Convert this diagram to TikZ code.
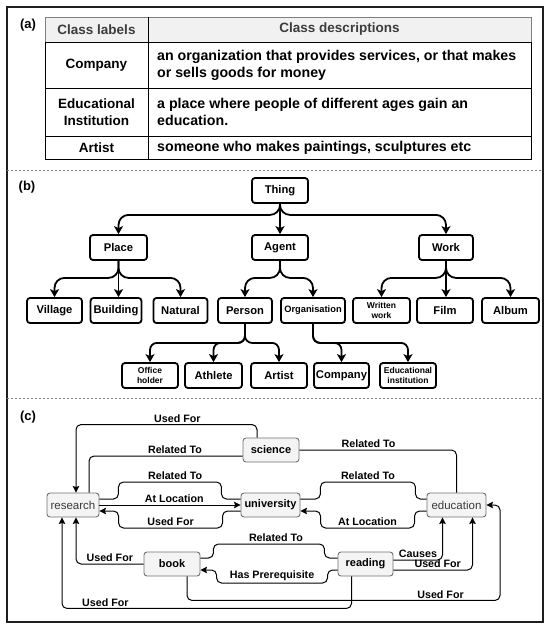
\documentclass[tikz,border=0pt]{standalone}
\usepackage{fontspec}
\setmainfont{Liberation Sans}
\usetikzlibrary{arrows.meta,positioning}
\definecolor{frameink}{HTML}{1E1E1E}
\definecolor{headfill}{HTML}{F1F1F1}
\definecolor{headink}{HTML}{3C3C3C}
\definecolor{conceptfill}{HTML}{F4F4F4}
\definecolor{conceptline}{HTML}{707070}
\definecolor{softink}{HTML}{3A3A3A}

\begin{document}
\begin{tikzpicture}[
    x=1pt,y=-1pt,>=Latex,
    panel/.style={font=\fontsize{13}{15}\selectfont\bfseries},
    cell/.style={align=center,font=\fontsize{13.5}{16.5}\selectfont\bfseries},
    desc/.style={anchor=west,align=left,inner sep=0pt,font=\fontsize{14.2}{17}\selectfont\bfseries},
    cls/.style={draw,line width=1.8pt,rounded corners=3pt,fill=white,minimum width=56pt,
      minimum height=25pt,inner sep=1pt,align=center,font=\fontsize{11.2}{12}\selectfont\bfseries},
    tinytext/.style={font=\fontsize{8.5}{9.5}\selectfont\bfseries},
    isa/.style={-{Stealth[length=8pt,width=9pt,inset=2pt]},line width=1.8pt,rounded corners=10pt},
    concept/.style={draw=conceptline,fill=conceptfill,line width=.9pt,rounded corners=3pt,
      minimum height=24pt,font=\fontsize{11}{13}\selectfont\bfseries},
    softconcept/.style={concept,text=softink,font=\fontsize{11.5}{13}\selectfont},
    link/.style={line width=1pt,rounded corners=5pt},
    linkto/.style={link,-{Stealth[length=6.5pt,width=6.5pt,inset=1pt]}},
    reltag/.style={inner sep=1.5pt,font=\fontsize{10.7}{12}\selectfont\bfseries},
    divider/.style={draw=gray,dash pattern=on 2pt off 2pt,line width=.6pt}
  ]
  \useasboundingbox (0,0) rectangle (551,630);
  \draw[line width=1.5pt,frameink] (7,7) rectangle (543,622);
  \draw[divider] (7,170) -- (543,170);
  \draw[divider] (7,398) -- (543,398);

  % (a) class table
  \node[panel] (tagA) at (28,25) {(a)};
  \filldraw[fill=headfill,draw=gray,line width=.8pt] (45,17) rectangle (531,42);
  \draw[line width=.9pt] (45,42) rectangle (531,159);
  \foreach \y in {88,136} \draw[line width=.9pt] (45,\y) -- (531,\y);
  \draw[line width=.9pt] (148,17) -- (148,159);
  \node[cell,text=headink] (headlabel) at (96.5,29.5) {Class labels};
  \node[cell,text=headink] (headdesc) at (339.5,29.5) {Class descriptions};
  \node[cell] (rowcompany) at (96.5,65) {Company};
  \node[desc] (desccompany) at (157,65) {an organization that provides services, or that makes\\or sells goods for money};
  \node[cell] (rowschool) at (96.5,112) {Educational\\Institution};
  \node[desc] (descschool) at (157,112) {a place where people of different ages gain an\\education.};
  \node[cell] (rowartist) at (96.5,147.5) {Artist};
  \node[desc] (descartist) at (157,147.5) {someone who makes paintings, sculptures etc};

  % (b) class hierarchy
  \node[panel] (tagB) at (27,187) {(b)};
  \node[cls] (thing) at (280,190.5) {Thing};
  \node[cls,minimum width=57pt] (place) at (118.5,247.5) {Place};
  \node[cls] (agent) at (280,247.5) {Agent};
  \node[cls,minimum width=54pt] (work) at (446,247.5) {Work};
  \node[cls,minimum width=55pt] (village) at (54.5,310.5) {Village};
  \node[cls,minimum width=51pt] (building) at (116,310.5) {Building};
  \node[cls,minimum width=54pt] (natural) at (180.5,310.5) {Natural};
  \node[cls,minimum width=54pt] (person) at (245,310.5) {Person};
  \node[cls,minimum width=64pt,font=\fontsize{9.3}{10}\selectfont\bfseries] (organisation) at (313,310.5) {Organisation};
  \node[cls,minimum width=57pt,tinytext] (written) at (381.5,310.5) {Written\\work};
  \node[cls] (film) at (445,310.5) {Film};
  \node[cls,minimum width=57pt] (album) at (510.5,310.5) {Album};
  \node[cls,tinytext] (office) at (150,375.5) {Office\\holder};
  \node[cls,minimum width=57pt] (athlete) at (213.5,375.5) {Athlete};
  \node[cls] (artist) at (279,375.5) {Artist};
  \node[cls,minimum width=55pt] (company) at (341.5,375.5) {Company};
  \node[cls,tinytext] (institution) at (408,375.5) {Educational\\institution};

  \draw[isa] (thing.south) -- ++(0,11) -| (place.north);
  \draw[isa] (thing) -- (agent);
  \draw[isa] (thing.south) -- ++(0,11) -| (work.north);
  \foreach \kid in {village,natural}
    \draw[isa] (place.south) -- ++(0,17) -| (\kid.north);
  \draw[isa] (place.south) -- (place.south |- building.north);
  \foreach \kid in {person,organisation}
    \draw[isa] (agent.south) -- ++(0,17) -| (\kid.north);
  \foreach \kid in {written,album}
    \draw[isa] (work.south) -- ++(0,17) -| (\kid.north);
  \draw[isa] (work.south) -- (work.south |- film.north);
  \foreach \kid in {office,athlete,artist}
    \draw[isa,rounded corners=7pt] (person.south) -- ++(0,19) -| (\kid.north);
  \foreach \kid in {company,institution}
    \draw[isa,rounded corners=7pt] (organisation.south) -- ++(0,19) -| (\kid.north);

  % (c) concept graph
  \node[panel] (tagC) at (28,417) {(c)};
  \node[softconcept,minimum width=52pt] (research) at (73,505) {research};
  \node[concept,minimum width=56pt] (science) at (271,450) {science};
  \node[concept,minimum width=59pt] (university) at (270.5,505) {university};
  \node[softconcept,minimum width=59pt] (education) at (456.5,505) {education};
  \node[concept,minimum width=56pt] (book) at (172,564) {book};
  \node[concept,minimum width=55pt] (reading) at (365.5,564) {reading};

  \draw[linkto] ([xshift=-14pt]science.north) -- ++(0,-13) -| node[reltag,pos=.22,above]{Used For} ([xshift=3pt]research.north);
  \draw[link] ([yshift=-6pt]science.west) -| node[reltag,pos=.22,above]{Related To} ([xshift=16pt]research.north);
  \draw[link] (science.east) -| node[reltag,pos=.22,above]{Related To} (education.north);
  \draw[link] ([yshift=6pt]research.east) -- ++(19,0) -- ++(0,-17) -- node[reltag,pos=.55,above]{Related To} ++(103,0) -- ++(0,17) -- ([yshift=6pt]university.west);
  \draw[linkto] (research.east) -- node[reltag,pos=.53,above]{At Location} (university.west);
  \draw[linkto] ([yshift=-6pt]university.west) -- ++(-18,0) -- ++(0,17) -- node[reltag,above]{Used For} ++(-104,0) -- ++(0,-17) -- ([yshift=-6pt]research.east);
  \draw[link] ([yshift=6pt]university.east) -- ++(20,0) -- ++(0,-17) -- node[reltag,above]{Related To} ++(95,0) -- ++(0,17) -- ([yshift=6pt]education.west);
  \draw[linkto] ([yshift=-6pt]education.west) -- ++(-12,0) -- ++(0,17) -- node[reltag,above]{At Location} ++(-94,0) -- ++(0,-17) -- ([yshift=-6pt]university.east);
  \draw[link] ([yshift=6pt]book.east) -- ++(13,0) -- ++(0,-14) -- node[reltag,above,xshift=7pt]{Related To} ++(111,0) -- ++(0,14) -- ([yshift=6pt]reading.west);
  \draw[linkto] ([yshift=-6pt]reading.west) -- ++(-10,0) -- ++(0,13) -- node[reltag,above]{Has Prerequisite} ++(-111,0) -- ++(0,-13) -- ([yshift=-6pt]book.east);
  \draw[linkto] (book.west) -| node[reltag,pos=.25,above]{Used For} ([xshift=3pt]research.south);
  \draw[linkto] ([xshift=-14pt]reading.south) -- ++(0,32) -| node[reltag,pos=.425,above]{Used For} ([xshift=-11pt]research.south);
  \draw[linkto] ([xshift=15pt]book.south) -- ++(0,24) -- node[reltag,pos=.81,above]{Used For} ++(313,0) |- (education.east);
  \draw[linkto] ([yshift=4pt]reading.east) -| node[reltag,pos=.25,above]{Causes} ([xshift=-14pt]education.south);
  \draw[linkto] ([yshift=-6pt]reading.east) -| node[reltag,pos=.28,above]{Used For} ([xshift=16pt]education.south);
\end{tikzpicture}
\end{document}
